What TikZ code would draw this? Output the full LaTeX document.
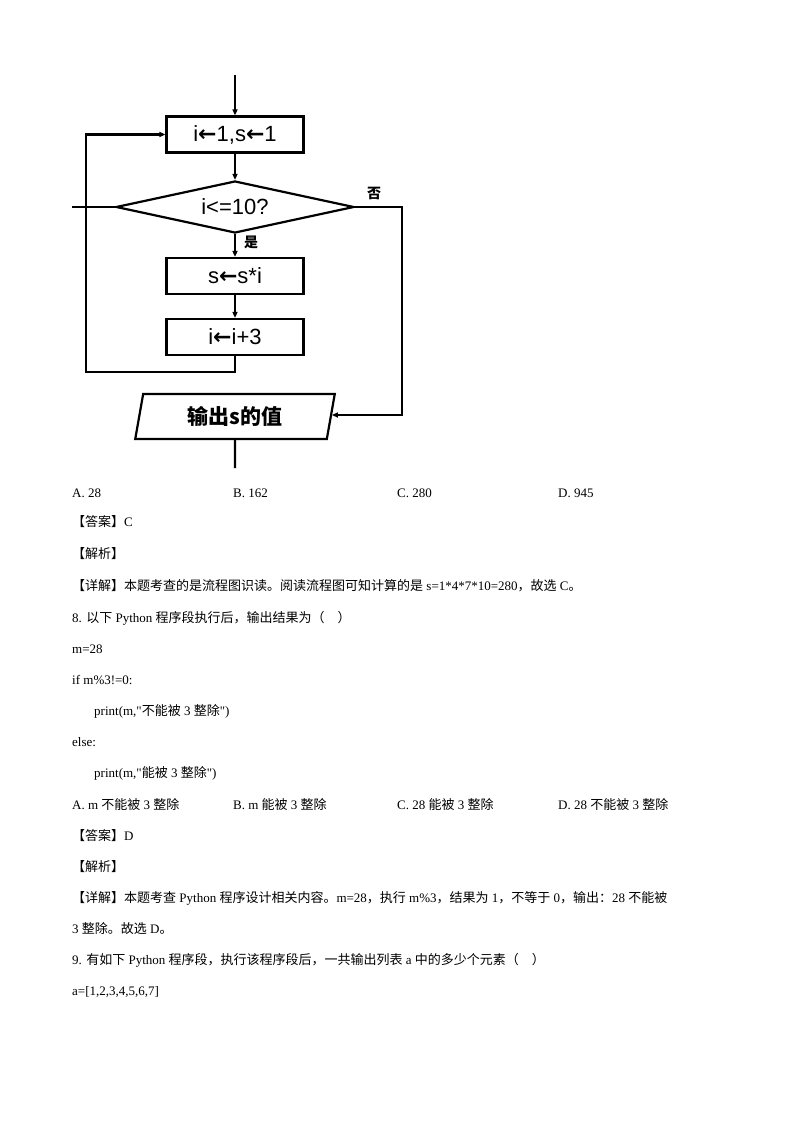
\documentclass[tikz,border=0pt]{standalone}
\usepackage{fontspec}
\setmainfont{Liberation Serif}
\newfontfamily\cjk{Noto Sans CJK SC}
\newfontfamily\fcs{Liberation Sans}[BoldFont={Liberation Sans Bold}]
\newfontfamily\arr{DejaVu Sans}
\usetikzlibrary{arrows.meta,shapes.geometric}
\newcommand{\la}{{\arr\bfseries ←}}
\newcommand{\dq}{\textquotedbl}
\begin{document}
\begin{tikzpicture}[x=1pt,y=-1pt,
  fl/.style={line width=2.2pt},
  box/.style={draw,line width=2.2pt,minimum width=137pt,minimum height=36pt,inner sep=0pt,font=\fcs\fontsize{22}{24}\selectfont},
  txt/.style={anchor=base west,inner sep=0pt,font=\fontsize{13}{15}\selectfont},
  lbl/.style={inner sep=0pt,font=\cjk\bfseries\fontsize{14}{16}\selectfont},
  >={Triangle[length=6pt,width=5pt]}]
\useasboundingbox (0,0) rectangle (794,1123);
\fill[white] (0,0) rectangle (794,1123);
% flowchart
\node[box] (b1) at (235,134.5) {i\la 1,s\la 1};
\node[draw,diamond,line width=2.2pt,aspect=4.6,minimum width=238pt,minimum height=52pt,inner sep=0pt,font=\fcs\fontsize{22}{24}\selectfont] (d) at (235,207) {i<=10?};
\node[box] (b2) at (235,276) {s\la s*i};
\node[box] (b3) at (235,337) {i\la i+3};
\node[draw,trapezium,trapezium left angle=80,trapezium right angle=100,line width=2.2pt,minimum width=200pt,minimum height=37pt,inner sep=2pt,font=\cjk\bfseries\fontsize{21}{23}\selectfont] (out) at (235,416.5) {输出s的值};
\coordinate (top) at (235,75);
\coordinate (end) at (235,468);
\coordinate (lstub) at (72,207);
\coordinate (c1) at (235,372);
\coordinate (c2) at (86,372);
\coordinate (r1) at (402,207);
\coordinate (r2) at (402,415);
\draw[fl,->] (top) -- (b1.north);
\draw[fl,->] (b1.south) -- (d.north);
\draw[fl,->] (d.south) -- (b2.north);
\draw[fl,->] (b2.south) -- (b3.north);
\draw[fl,->] (b3.south) -- (c1) -- (c2) |- (b1.west);
\draw[fl] (d.west) -- (lstub);
\draw[fl,->] (d.east) -- (r1) -- (r2) -- (out.east |- r2);
\draw[fl] (out.south) -- (end);
\node[lbl] (no) at (374,193) {否};
\node[lbl] (yes) at (251,242) {是};
% text
\node[txt] (t1) at (72,497) {A. 28};
\node[txt] (t2) at (233,497) {B. 162};
\node[txt] (t3) at (397,497) {C. 280};
\node[txt] (t4) at (558,497) {D. 945};
\node[txt] (t5) at (72,526) {{\cjk 【答案】}C};
\node[txt] (t6) at (72,558) {{\cjk 【解析】}};
\node[txt] (t7) at (72,590) {{\cjk 【详解】本题考查的是流程图识读。阅读流程图可知计算的是} s=1*4*7*10=280{\cjk ，故选} C{\cjk 。}};
\node[txt] (t8) at (72,622) {8. {\cjk 以下} Python {\cjk 程序段执行后，输出结果为（\quad ）}};
\node[txt] (t9) at (72,653) {m=28};
\node[txt] (t10) at (72,684) {if m\%3!=0:};
\node[txt] (t11) at (94,715) {print(m,\dq{\cjk 不能被} 3 {\cjk 整除}\dq)};
\node[txt] (t12) at (72,746) {else:};
\node[txt] (t13) at (94,777) {print(m,\dq{\cjk 能被} 3 {\cjk 整除}\dq)};
\node[txt] (t14) at (72,809) {A. m {\cjk 不能被} 3 {\cjk 整除}};
\node[txt] (t15) at (233,809) {B. m {\cjk 能被} 3 {\cjk 整除}};
\node[txt] (t16) at (397,809) {C. 28 {\cjk 能被} 3 {\cjk 整除}};
\node[txt] (t17) at (558,809) {D. 28 {\cjk 不能被} 3 {\cjk 整除}};
\node[txt] (t18) at (72,840) {{\cjk 【答案】}D};
\node[txt] (t19) at (72,871) {{\cjk 【解析】}};
\node[txt] (t20) at (72,902) {{\cjk 【详解】本题考查} Python {\cjk 程序设计相关内容。}m=28{\cjk ，执行} m\%3{\cjk ，结果为} 1{\cjk ，不等于} 0{\cjk ，输出：}28 {\cjk 不能被}};
\node[txt] (t21) at (72,933) {3 {\cjk 整除。故选} D{\cjk 。}};
\node[txt] (t22) at (72,964) {9. {\cjk 有如下} Python {\cjk 程序段，执行该程序段后，一共输出列表} a {\cjk 中的多少个元素（\quad ）}};
\node[txt] (t23) at (72,995) {a=[1,2,3,4,5,6,7]};
\end{tikzpicture}
\end{document}
